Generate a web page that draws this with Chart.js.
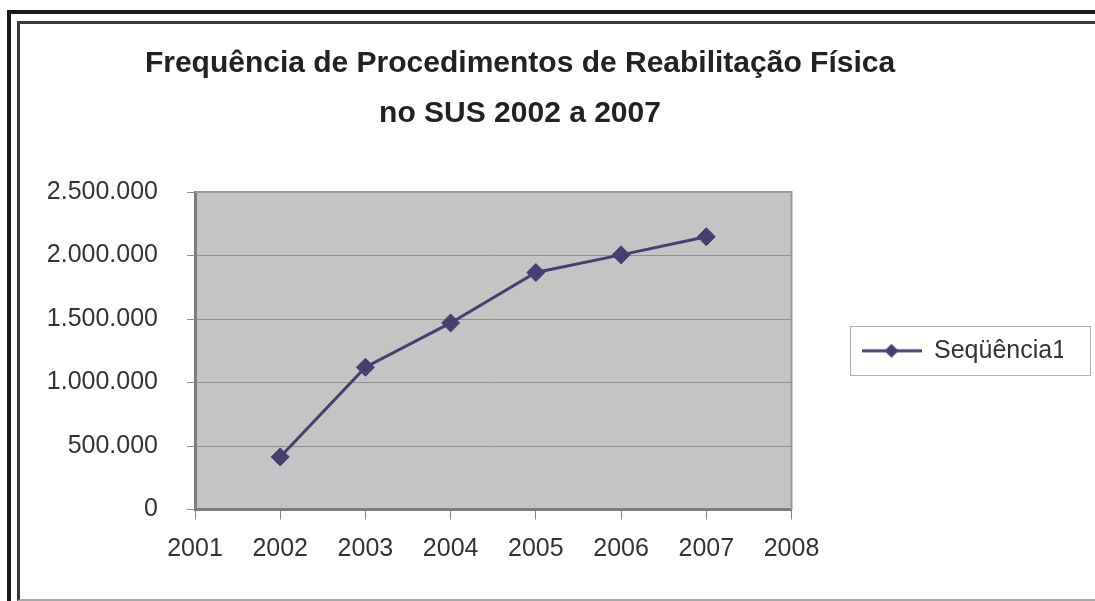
<!DOCTYPE html>
<html>
<head>
<meta charset="utf-8">
<title>Frequência de Procedimentos de Reabilitação Física</title>
<script src="https://cdn.jsdelivr.net/npm/chart.js@4.4.0/dist/chart.umd.min.js"></script>
<style>
  body { margin: 0; width: 1095px; height: 601px; overflow: hidden; background: #fff; position: relative; }
  #outerFrame { position: absolute; left: 7px; top: 10px; right: 0; bottom: -10px; border-top: 4px solid #1b1b1b; border-left: 4px solid #1b1b1b; }
  #innerFrame { position: absolute; left: 17px; top: 21px; right: 0; height: 575px; border-top: 3px solid #3a3a3a; border-left: 3px solid #3a3a3a; border-bottom: 2px solid #a8a8a8; }
  #chart1 { position: absolute; left: -23px; top: 0; }
</style>
</head>
<body>
<div id="outerFrame"></div>
<div id="innerFrame"></div>
<canvas id="chart1" width="1118" height="601"></canvas>
<script>
var anos = [2002, 2003, 2004, 2005, 2006, 2007];
var procedimentos = [414000, 1120000, 1469000, 1866000, 2005000, 2148000];
var nomeSerie = "Seqüência1";
var titulo = ["Frequência de Procedimentos de Reabilitação Física", "no SUS 2002 a 2007"];
var anoMin = 2001, anoMax = 2008;
var yMax = 2500000, yPasso = 500000;

var corLinha = "#463f70";
var fonte = "'Liberation Sans', Arial, sans-serif";

// pontos {x,y} a partir dos arrays
var pontos = [];
for (var i = 0; i < anos.length; i++) {
  pontos.push({ x: anos[i], y: procedimentos[i] });
}

function formataMilhar(v) {
  return String(v).replace(/\B(?=(\d{3})+(?!\d))/g, ".");
}

// icone da legenda: linha com losango no meio
var iconeLegenda = document.createElement("canvas");
iconeLegenda.width = 60;
iconeLegenda.height = 20;
(function () {
  var c = iconeLegenda.getContext("2d");
  c.strokeStyle = corLinha;
  c.lineWidth = 3;
  c.beginPath(); c.moveTo(0, 10); c.lineTo(60, 10); c.stroke();
  c.fillStyle = corLinha;
  c.beginPath(); c.moveTo(30, 3); c.lineTo(37, 10); c.lineTo(30, 17); c.lineTo(23, 10); c.closePath(); c.fill();
})();

// fundo cinza da area de plotagem + moldura de cima e direita + caixa da legenda
var areaPlot = {
  id: "areaPlot",
  beforeDraw: function (chart) {
    var a = chart.chartArea, ctx = chart.ctx;
    ctx.save();
    ctx.fillStyle = "#c4c4c4";
    ctx.fillRect(a.left, a.top, a.right - a.left, a.bottom - a.top);
    ctx.restore();
  },
  beforeDatasetsDraw: function (chart) {
    var a = chart.chartArea, ctx = chart.ctx;
    ctx.save();
    ctx.strokeStyle = "#9a9a9a";
    ctx.lineWidth = 2;
    ctx.beginPath();
    ctx.moveTo(a.left, a.top);
    ctx.lineTo(a.right, a.top);
    ctx.lineTo(a.right, a.bottom);
    ctx.stroke();
    ctx.restore();
  },
  afterDraw: function (chart) {
    var h = chart.legend.legendHitBoxes[0];
    if (!h) return;
    var ctx = chart.ctx;
    ctx.save();
    ctx.strokeStyle = "#b0b0b0";
    ctx.lineWidth = 1;
    ctx.strokeRect(Math.round(h.left - 12) + 0.5, Math.round(h.top - 12) + 0.5, Math.round(h.width + 35), Math.round(h.height + 24));
    ctx.restore();
  }
};

var CHART1 = document.getElementById("chart1");
var grafico = new Chart(CHART1, {
  type: "line",
  data: {
    datasets: [{
      label: nomeSerie,
      data: pontos,
      borderColor: corLinha,
      backgroundColor: corLinha,
      borderWidth: 3,
      tension: 0,
      pointStyle: "rectRot",
      pointRadius: 9,
      pointBorderWidth: 1,
      pointBackgroundColor: corLinha,
      pointBorderColor: corLinha
    }]
  },
  options: {
    responsive: false,
    animation: false,
    devicePixelRatio: 1,
    layout: { padding: { left: 0, right: 32, top: 0, bottom: 21.5 } },
    scales: {
      x: {
        type: "linear",
        min: anoMin,
        max: anoMax,
        ticks: {
          stepSize: 1,
          color: "#333",
          padding: 15,
          maxRotation: 0,
          font: { family: fonte, size: 25 },
          callback: function (v) { return String(v); }
        },
        grid: { drawOnChartArea: false, drawTicks: true, tickLength: 10, color: "#8a8a8a" },
        border: { color: "#7c7c7c", width: 3 }
      },
      y: {
        min: 0,
        max: yMax,
        afterFit: function (eixo) { eixo.width = 218; },
        ticks: {
          stepSize: yPasso,
          color: "#333",
          padding: 29,
          font: { family: fonte, size: 25 },
          callback: function (v) { return formataMilhar(v); }
        },
        grid: { color: "#8f8f8f", tickLength: 8 },
        border: { color: "#7c7c7c", width: 3 }
      }
    },
    plugins: {
      title: {
        display: true,
        text: titulo,
        color: "#222",
        font: { family: fonte, size: 30, weight: "bold", lineHeight: 1.667 },
        padding: { top: 39, bottom: 53 }
      },
      legend: {
        position: "right",
        fullSize: false,
        labels: {
          usePointStyle: true,
          pointStyleWidth: 60,
          padding: 70,
          color: "#333",
          font: { family: fonte, size: 25 },
          generateLabels: function (chart) {
            var itens = Chart.defaults.plugins.legend.labels.generateLabels(chart);
            itens[0].pointStyle = iconeLegenda;
            return itens;
          }
        }
      },
      tooltip: { enabled: false }
    }
  },
  plugins: [areaPlot]
});
console.log(grafico.chartArea);
</script>
</body>
</html>
